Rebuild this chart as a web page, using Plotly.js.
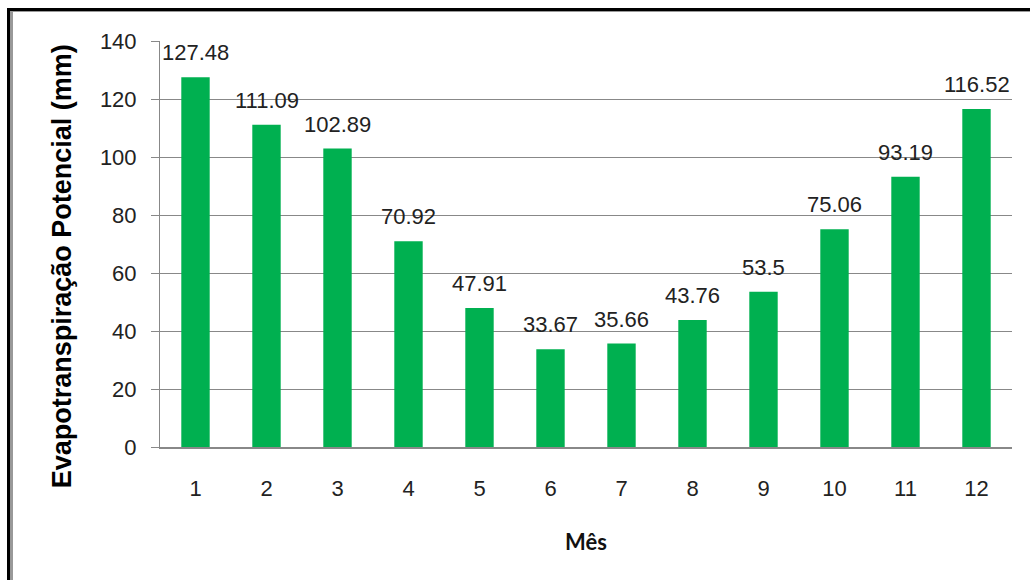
<!DOCTYPE html>
<html>
<head>
<meta charset="utf-8">
<script src="https://cdn.plot.ly/plotly-3.0.1.min.js"></script>
<style>
  html, body { margin:0; padding:0; background:#fff; }
  #wrap { position:relative; width:1030px; height:580px; overflow:hidden; }
  #chart { position:absolute; left:0; top:0; width:1030px; height:580px; }
  .b { position:absolute; }
</style>
</head>
<body>
<div id="wrap">
  <div id="chart"></div>
  <div class="b" style="left:7px; top:8px; width:1030px; height:3px; background:#000;"></div>
  <div class="b" style="left:7px; top:8px; width:3px; height:600px; background:#000;"></div>
  <div class="b" style="left:10px; top:11px; width:1030px; height:1px; background:#999;"></div>
  <div class="b" style="left:10px; top:11px; width:3px; height:600px; background:#999;"></div>
</div>
<script>
var months = ['1','2','3','4','5','6','7','8','9','10','11','12'];
var etp = [127.48, 111.09, 102.89, 70.92, 47.91, 33.67, 35.66, 43.76, 53.5, 75.06, 93.19, 116.52];
var labels = ['127.48','111.09','102.89','70.92','47.91','33.67','35.66','43.76','53.5','75.06','93.19','116.52'];
var yTitle = 'Evapotranspiração Potencial (mm)';
var xTitle = 'Mês';

var annotations = months.map(function(m, i){
  return {x: i, y: etp[i], xref:'x', yref:'y', text: labels[i], showarrow:false,
          yanchor:'bottom', yshift: 10,
          font:{family:'Liberation Sans, Arial, sans-serif', size:22, color:'#222'}};
});
annotations.push({
  xref:'paper', yref:'paper', x:-0.115, y:0.445, text: yTitle, textangle:-90,
  showarrow:false, xanchor:'center', yanchor:'middle',
  font:{family:'Liberation Sans, Arial, sans-serif', size:27, color:'#000', weight:700}
});

var trace = {
  type:'bar', x: months, y: etp,
  marker:{color:'#00B050'},
  hoverinfo:'none'
};

var layout = {
  width:1030, height:580,
  margin:{l:160, r:18, t:41, b:133},
  paper_bgcolor:'rgba(0,0,0,0)', plot_bgcolor:'#fff',
  bargap:0.6,
  showlegend:false,
  xaxis:{
    type:'category', range:[-0.5, 11.5],
    showline:true, linecolor:'#888', linewidth:2,
    showgrid:false, ticks:'', ticklabelstandoff:21,
    tickfont:{family:'Liberation Sans, Arial, sans-serif', size:22, color:'#222'},
    title:{text: xTitle, standoff:34, font:{family:'Lato, Open Sans, sans-serif', size:22, color:'#111', weight:700}}
  },
  yaxis:{
    range:[0,140], dtick:20, tick0:0,
    showline:true, linecolor:'#888', linewidth:1,
    showgrid:true, gridcolor:'#888', gridwidth:1,
    zeroline:false,
    ticks:'outside', ticklen:8, tickcolor:'#888', tickwidth:1,
    ticklabelstandoff:10,
    tickfont:{family:'Liberation Sans, Arial, sans-serif', size:22, color:'#222'}
  },
  annotations: annotations
};

Plotly.newPlot('chart', [trace], layout, {displayModeBar:false, staticPlot:true});
</script>
</body>
</html>
